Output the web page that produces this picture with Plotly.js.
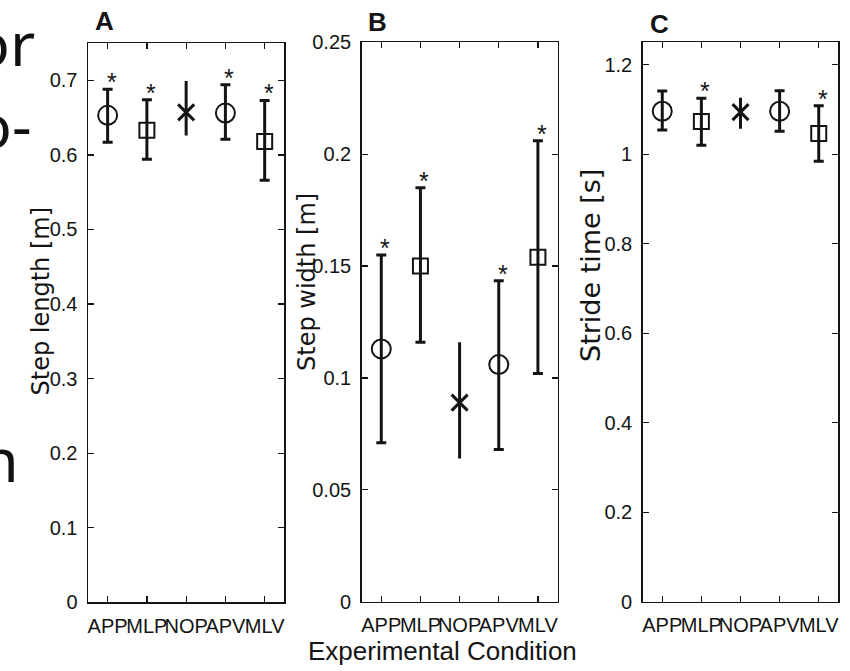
<!DOCTYPE html>
<html>
<head>
<meta charset="utf-8">
<script src="https://cdn.plot.ly/plotly-3.0.1.min.js"></script>
<style>
  html, body { margin: 0; padding: 0; background: #fff; }
  #chart { width: 850px; height: 671px; }
</style>
</head>
<body>
<div id="chart"></div>
<script>
// ---------- data ----------
const conditions = ['APP', 'MLP', 'NOP', 'APV', 'MLV'];

const stepLengthMean = [0.653, 0.633, 0.657, 0.656, 0.618];
const stepLengthHigh = [0.688, 0.674, 0.699, 0.694, 0.673];
const stepLengthLow  = [0.617, 0.594, 0.626, 0.621, 0.566];
const stepLengthSig  = [1, 1, 0, 1, 1];

const stepWidthMean = [0.113, 0.150, 0.089, 0.106, 0.154];
const stepWidthHigh = [0.155, 0.185, 0.116, 0.1435, 0.206];
const stepWidthLow  = [0.071, 0.116, 0.064, 0.068, 0.102];
const stepWidthSig  = [1, 1, 0, 1, 1];

const strideTimeMean = [1.096, 1.073, 1.094, 1.096, 1.046];
const strideTimeHigh = [1.141, 1.125, 1.126, 1.142, 1.108];
const strideTimeLow  = [1.054, 1.020, 1.057, 1.051, 0.984];
const strideTimeSig  = [0, 1, 0, 0, 1];

const panelLetters = ['A', 'B', 'C'];
const yTitles = ['Step length [m]', 'Step width [m]', 'Stride time [s]'];
const xTitle = 'Experimental Condition';
const sideFragments = ['or', 'o-', 'n'];

// ---------- styles ----------
const INK = '#141414';
const symbolFor = {APP: 'circle-open', MLP: 'square-open', NOP: 'x-thin-open', APV: 'circle-open', MLV: 'square-open'};
const sizeFor = {APP: 19, MLP: 15, NOP: 16, APV: 19, MLV: 15};
const lineFor = {APP: 2, MLP: 2, NOP: 3, APV: 2, MLV: 2};
const capFor = {APP: 5, MLP: 5, NOP: 0, APV: 5, MLV: 5};
const TICKFONT = {family: '"Liberation Sans", Arial, sans-serif', size: 20, color: INK};
const W = 850, H = 671;

const panels = [
  {mean: stepLengthMean, hi: stepLengthHigh, lo: stepLengthLow, sig: stepLengthSig,
   px: [88, 284.3], py: [43, 602.3], range: [0, 0.75], dtick: 0.1,
   letter: [104.6, 21], title: [40.5, 301], titleSize: 24},
  {mean: stepWidthMean, hi: stepWidthHigh, lo: stepWidthLow, sig: stepWidthSig,
   px: [361.7, 557.5], py: [42.4, 601.7], range: [0, 0.25], dtick: 0.05,
   letter: [377.5, 22.5], title: [307, 282], titleSize: 24},
  {mean: strideTimeMean, hi: strideTimeHigh, lo: strideTimeLow, sig: strideTimeSig,
   px: [642.7, 838.3], py: [42.3, 601.7], range: [0, 1.25], dtick: 0.2,
   letter: [659, 23.5], title: [590.5, 265.5], titleSize: 27}
];

const xIdx = conditions.map((c, i) => i);
const traces = [];
const annotations = [];
const layout = {
  width: W, height: H,
  margin: {l: 0, r: 0, t: 0, b: 0},
  paper_bgcolor: '#ffffff', plot_bgcolor: '#ffffff',
  showlegend: false,
  font: {family: '"Liberation Sans", Arial, sans-serif', color: INK}
};

panels.forEach((p, k) => {
  const n = k === 0 ? '' : String(k + 1);
  const xa = 'x' + n, ya = 'y' + n;
  conditions.forEach((c, i) => {
    traces.push({
      type: 'scatter', mode: 'markers', xaxis: xa, yaxis: ya,
      x: [xIdx[i]], y: [p.mean[i]], name: c, hoverinfo: 'x+y',
      marker: {symbol: symbolFor[c], size: sizeFor[c], color: INK,
               line: {width: lineFor[c], color: INK}},
      error_y: {type: 'data', symmetric: false,
                array: [p.hi[i] - p.mean[i]], arrayminus: [p.mean[i] - p.lo[i]],
                thickness: 3, width: capFor[c], color: INK}
    });
    if (p.sig[i]) {
      annotations.push({xref: xa, yref: ya, x: xIdx[i], y: p.hi[i], text: '*',
        showarrow: false, xshift: 4, yshift: 7, yanchor: 'middle',
        font: {family: '"Liberation Sans", Arial, sans-serif', size: 25, color: INK}});
    }
  });
  layout['xaxis' + n] = {
    domain: [p.px[0] / W, p.px[1] / W], anchor: ya,
    range: [-0.5, conditions.length - 0.5],
    tickmode: 'array', tickvals: xIdx, ticktext: conditions, tickangle: 0,
    ticks: 'inside', ticklen: 6, tickwidth: 1.3, tickcolor: INK,
    showline: true, linecolor: INK, linewidth: 1.5, mirror: 'ticks',
    showgrid: false, zeroline: false, tickfont: TICKFONT, ticklabelstandoff: 5
  };
  layout['yaxis' + n] = {
    domain: [1 - p.py[1] / H, 1 - p.py[0] / H], anchor: xa,
    range: p.range, dtick: p.dtick, tick0: 0,
    ticks: 'inside', ticklen: 6, tickwidth: 1.3, tickcolor: INK,
    showline: true, linecolor: INK, linewidth: 1.5, mirror: 'ticks',
    showgrid: false, zeroline: false, tickfont: TICKFONT, ticklabelstandoff: 5
  };
  annotations.push({xref: 'paper', yref: 'paper', x: p.letter[0] / W, y: 1 - p.letter[1] / H,
    xanchor: 'center', yanchor: 'middle', text: '<b>' + panelLetters[k] + '</b>', showarrow: false,
    font: {family: '"Liberation Sans", Arial, sans-serif', size: 26, color: INK}});
  annotations.push({xref: 'paper', yref: 'paper', x: p.title[0] / W, y: 1 - p.title[1] / H,
    xanchor: 'center', yanchor: 'middle', textangle: -90, text: yTitles[k], showarrow: false,
    font: {family: '"DejaVu Sans", sans-serif', size: p.titleSize, color: INK}});
});

annotations.push({xref: 'paper', yref: 'paper', x: 443 / W, y: 1 - 651 / H,
  xanchor: 'center', yanchor: 'middle', text: xTitle, showarrow: false,
  font: {family: '"Liberation Sans", Arial, sans-serif', size: 26, color: INK}});

// fragments of neighbouring page text, cut by the left edge
const fragPos = [[37, 42], [34, 124], [21, 458]];
sideFragments.forEach((t, i) => {
  annotations.push({xref: 'paper', yref: 'paper', x: fragPos[i][0] / W, y: 1 - fragPos[i][1] / H,
    xanchor: 'right', yanchor: 'middle', text: t, showarrow: false,
    font: {family: '"Noto Sans", sans-serif', size: 61, color: '#111'}});
});

layout.annotations = annotations;
Plotly.newPlot('chart', traces, layout, {displayModeBar: false, staticPlot: true});
</script>
</body>
</html>
